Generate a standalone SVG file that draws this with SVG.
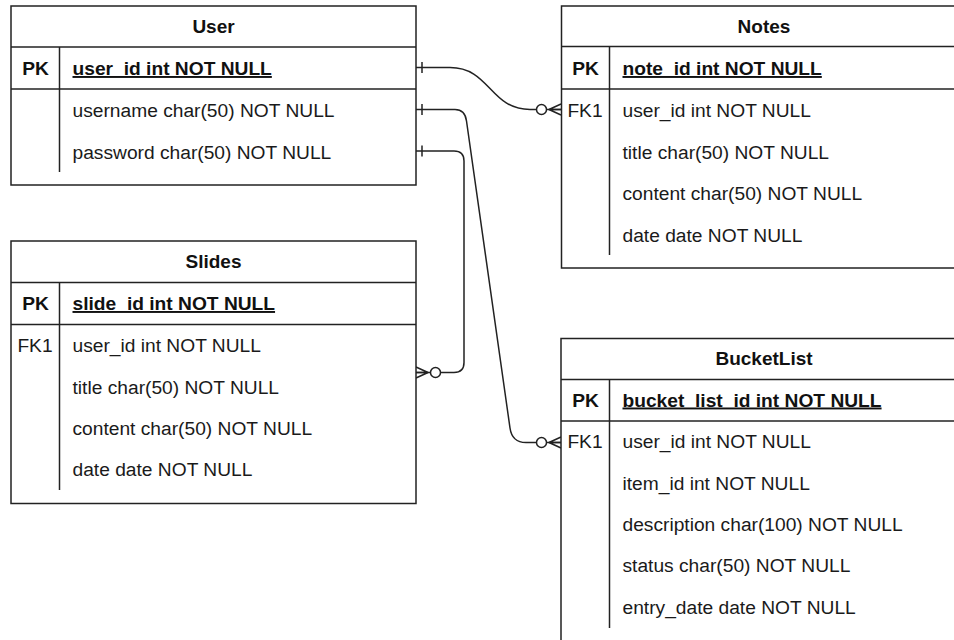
<svg xmlns="http://www.w3.org/2000/svg" width="954" height="640" viewBox="0 0 954 640">
  <style>
    .frame { fill: #ffffff; stroke: #222222; stroke-width: 1.5; }
    .rule { stroke: #222222; stroke-width: 1.5; fill: none; }
    .t { font-family: "Liberation Sans", Arial, Helvetica, sans-serif; font-size: 19.2px; fill: #1a1a1a; }
    .title { font-weight: bold; text-anchor: middle; fill: #111111; font-size: 19px; }
    .key { text-anchor: middle; }
    .bold { font-weight: bold; fill: #111111; }
    .pk { font-weight: bold; text-decoration: underline; fill: #111111; }
    .edge { fill: none; stroke: #222222; stroke-width: 1.5; }
  </style>
  <defs>
    <!-- mandatory "one" end: a single tick across the line -->
    <marker id="one" markerUnits="userSpaceOnUse" markerWidth="20" markerHeight="20" refX="0" refY="0" orient="auto" overflow="visible">
      <line x1="6" y1="-5.5" x2="6" y2="5.5" stroke="#222222" stroke-width="1.5"/>
    </marker>
    <!-- optional "many" end: ring plus crow's foot -->
    <marker id="zeroMany" markerUnits="userSpaceOnUse" markerWidth="30" markerHeight="20" refX="0" refY="0" orient="auto" overflow="visible">
      <path d="M-12,0 L0,-5.5 M-12,0 L0,0 M-12,0 L0,5.5" fill="none" stroke="#222222" stroke-width="1.5"/>
      <circle cx="-19.5" cy="0" r="5" fill="#ffffff" stroke="#222222" stroke-width="1.5"/>
    </marker>
  </defs>

  <g id="connectors">
    <!-- User.user_id -> Notes.user_id -->
    <path class="edge" d="M416,67.5 H450 C490,67.5 490,109.5 530,109.5 H561" marker-start="url(#one)" marker-end="url(#zeroMany)"/>
    <!-- User -> BucketList.user_id -->
    <path class="edge" d="M416,109.5 H455 Q465,109.5 466.5,121 L510,428 Q512,442.5 526,442.5 H561" marker-start="url(#one)" marker-end="url(#zeroMany)"/>
    <!-- User -> Slides.user_id -->
    <path class="edge" d="M416,151 H454 Q464,151 464,161 V362.5 Q464,372.5 454,372.5 H416" marker-start="url(#one)" marker-end="url(#zeroMany)"/>
  </g>

  <g id="user">
    <rect class="frame" x="11" y="6" width="405" height="179"/>
    <line class="rule" x1="11" y1="47" x2="416" y2="47"/>
    <line class="rule" x1="11" y1="89" x2="416" y2="89"/>
    <line class="rule" x1="59.5" y1="47" x2="59.5" y2="172"/>
    <text class="t title" x="213.5" y="33">User</text>
    <text class="t key bold" x="35.5" y="75">PK</text>
    <text class="t pk" x="72.5" y="75">user_id int NOT NULL</text>
    <text class="t" x="72.5" y="117">username char(50) NOT NULL</text>
    <text class="t" x="72.5" y="158.5">password char(50) NOT NULL</text>
  </g>

  <g id="notes">
    <rect class="frame" x="561.5" y="6" width="405" height="262"/>
    <line class="rule" x1="561.5" y1="46.5" x2="966.5" y2="46.5"/>
    <line class="rule" x1="561.5" y1="89" x2="966.5" y2="89"/>
    <line class="rule" x1="609.5" y1="46.5" x2="609.5" y2="255"/>
    <text class="t title" x="764" y="33">Notes</text>
    <text class="t key bold" x="585.5" y="75">PK</text>
    <text class="t pk" x="622.5" y="75">note_id int NOT NULL</text>
    <text class="t key" x="585" y="117">FK1</text>
    <text class="t" x="622.5" y="117">user_id int NOT NULL</text>
    <text class="t" x="622.5" y="158.5">title char(50) NOT NULL</text>
    <text class="t" x="622.5" y="200">content char(50) NOT NULL</text>
    <text class="t" x="622.5" y="241.5">date date NOT NULL</text>
  </g>

  <g id="slides">
    <rect class="frame" x="11" y="241" width="405" height="262.5"/>
    <line class="rule" x1="11" y1="282.5" x2="416" y2="282.5"/>
    <line class="rule" x1="11" y1="324.5" x2="416" y2="324.5"/>
    <line class="rule" x1="59.5" y1="282.5" x2="59.5" y2="490"/>
    <text class="t title" x="213.5" y="268">Slides</text>
    <text class="t key bold" x="35.5" y="310">PK</text>
    <text class="t pk" x="72.5" y="310">slide_id int NOT NULL</text>
    <text class="t key" x="35" y="351.5">FK1</text>
    <text class="t" x="72.5" y="351.5">user_id int NOT NULL</text>
    <text class="t" x="72.5" y="393.5">title char(50) NOT NULL</text>
    <text class="t" x="72.5" y="435">content char(50) NOT NULL</text>
    <text class="t" x="72.5" y="476">date date NOT NULL</text>
  </g>

  <g id="bucketlist">
    <rect class="frame" x="561" y="338.5" width="405" height="310"/>
    <line class="rule" x1="561" y1="379.5" x2="966" y2="379.5"/>
    <line class="rule" x1="561" y1="421" x2="966" y2="421"/>
    <line class="rule" x1="609.5" y1="379.5" x2="609.5" y2="628"/>
    <text class="t title" x="764" y="365">BucketList</text>
    <text class="t key bold" x="585.5" y="406.5">PK</text>
    <text class="t pk" x="622.5" y="406.5">bucket_list_id int NOT NULL</text>
    <text class="t key" x="585" y="448">FK1</text>
    <text class="t" x="622.5" y="448">user_id int NOT NULL</text>
    <text class="t" x="622.5" y="489.5">item_id int NOT NULL</text>
    <text class="t" x="622.5" y="531">description char(100) NOT NULL</text>
    <text class="t" x="622.5" y="572">status char(50) NOT NULL</text>
    <text class="t" x="622.5" y="613.5">entry_date date NOT NULL</text>
  </g>
</svg>
